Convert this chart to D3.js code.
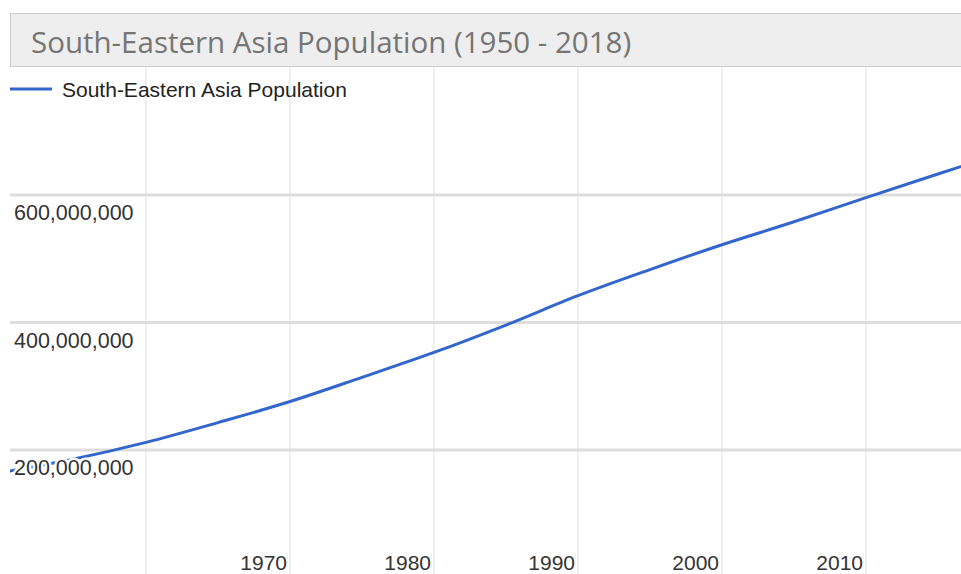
<!DOCTYPE html>
<html>
<head>
<meta charset="utf-8">
<script src="https://cdn.jsdelivr.net/npm/d3@7"></script>
<style>
  body { margin: 0; background: #fff; }
  svg { display: block; }
</style>
</head>
<body>
<div id="app"></div>
<script>
// population estimates (millions)
const years = [1950, 1955, 1960, 1965, 1970, 1975, 1980, 1985, 1990, 1995, 2000, 2005, 2010, 2015, 2018];
const population = [165, 186, 212, 243, 276, 314, 353, 396, 442, 483, 522, 558, 596, 633, 655];
const yTicks = [200e6, 400e6, 600e6];
const xTicks = [1960, 1970, 1980, 1990, 2000, 2010];
const xLabelYears = [1970, 1980, 1990, 2000, 2010];
const title = 'South-Eastern Asia Population (1950 - 2018)';
const seriesName = 'South-Eastern Asia Population';

const width = 961, height = 574;
const data = years.map((y, i) => ({ year: y, value: population[i] * 1e6 }));

const svg = d3.select('#app').append('svg')
  .attr('width', width).attr('height', height);

const x = d3.scaleLinear().domain([1970, 2010]).range([290, 866]);
const y = d3.scaleLinear().domain([200e6, 600e6]).range([450, 195]);

svg.append('clipPath').attr('id', 'plot')
  .append('rect').attr('x', 10).attr('y', 67).attr('width', width).attr('height', height);

// vertical gridlines
svg.append('g').selectAll('line').data(xTicks).join('line')
  .attr('x1', d => x(d)).attr('x2', d => x(d))
  .attr('y1', 67).attr('y2', height)
  .attr('stroke', '#efefef').attr('stroke-width', 2);

// horizontal gridlines
svg.append('g').selectAll('line').data(yTicks).join('line')
  .attr('x1', 10).attr('x2', width)
  .attr('y1', d => y(d)).attr('y2', d => y(d))
  .attr('stroke', '#dddddd').attr('stroke-width', 3);

// the series
const line = d3.line()
  .x(d => x(d.year))
  .y(d => y(d.value))
  .curve(d3.curveMonotoneX);

svg.append('path').datum(data)
  .attr('clip-path', 'url(#plot)')
  .attr('d', line)
  .attr('fill', 'none')
  .attr('stroke', '#3366cc')
  .attr('stroke-width', 3);

// y labels (drawn over the line with a white halo)
svg.append('g').selectAll('text').data(yTicks).join('text')
  .attr('x', 14).attr('y', d => y(d) + 25)
  .text(d => d3.format(',')(d))
  .attr('font-family', 'Liberation Sans, Arial, sans-serif')
  .attr('font-size', 21.5)
  .attr('fill', '#333')
  .attr('stroke', '#fff').attr('stroke-width', 5)
  .attr('paint-order', 'stroke');

// x labels
svg.append('g').selectAll('text').data(xLabelYears).join('text')
  .attr('x', d => x(d) - 3).attr('y', 570)
  .attr('text-anchor', 'end')
  .text(d => d)
  .attr('font-family', 'Liberation Sans, Arial, sans-serif')
  .attr('font-size', 21)
  .attr('fill', '#333');

// title bar
svg.append('rect')
  .attr('x', 10.5).attr('y', 13.5)
  .attr('width', width).attr('height', 53)
  .attr('fill', '#eeeeee').attr('stroke', '#cccccc');

svg.append('text')
  .attr('x', 31).attr('y', 53)
  .text(title)
  .attr('font-family', 'Open Sans, sans-serif')
  .attr('font-size', 29.5)
  .attr('fill', '#757575');

// legend
svg.append('line')
  .attr('x1', 10).attr('x2', 52).attr('y1', 89).attr('y2', 89)
  .attr('stroke', '#3366cc').attr('stroke-width', 3);

svg.append('text')
  .attr('x', 62).attr('y', 97)
  .text(seriesName)
  .attr('font-family', 'Liberation Sans, Arial, sans-serif')
  .attr('font-size', 21)
  .attr('fill', '#222');
</script>
</body>
</html>
